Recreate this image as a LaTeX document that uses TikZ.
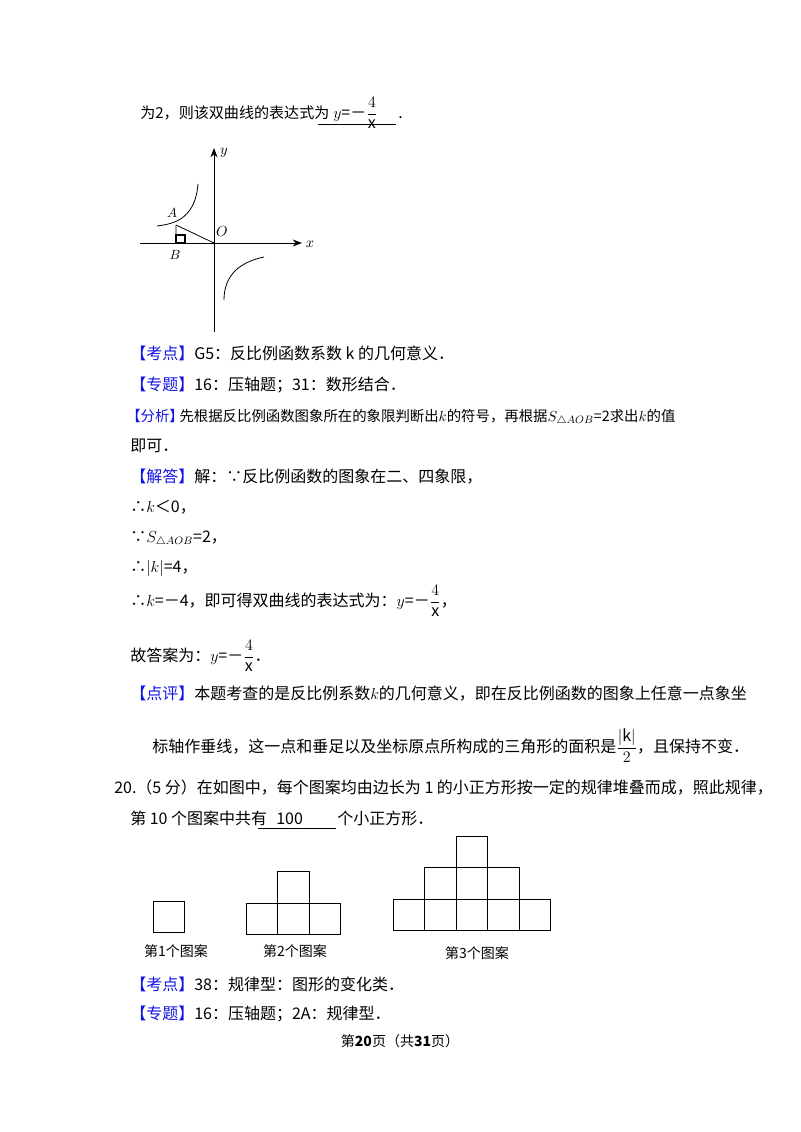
\documentclass[tikz,border=0pt]{standalone}
\usepackage{fontspec}
\usepackage{amsmath}
\setmainfont{Noto Sans CJK SC}
\usetikzlibrary{arrows.meta}
\definecolor{kb}{RGB}{20,20,230}
\newcommand{\lb}[1]{\textcolor{kb}{【#1】}}
\begin{document}
\begin{tikzpicture}[x=0.75pt,y=-0.75pt,
  txt/.style={anchor=base west,inner sep=0pt,font=\fontsize{12}{14}\selectfont},
  captxt/.style={anchor=base,inner sep=0pt,font=\fontsize{10.5}{12}\selectfont},
  sq/.style={draw,line width=0.7pt},
  ax/.style={line width=0.6pt,-{Stealth[length=7pt]}},
  crv/.style={line width=0.6pt}]
\useasboundingbox[fill=white] (0,0) rectangle (800,1132);
\node[txt,font=\fontsize{11.3}{14}\selectfont] (l1) at (140,118) {为2，则该双曲线的表达式为};
\node[txt] (l1f) at (333,118) {$y$=－$\dfrac{4}{\mathrm{x}}$};
\node[txt] (l1d) at (398,118) {.};
\coordinate (u1a) at (318,124); \coordinate (u1b) at (396,124);
\draw[line width=0.5pt] (u1a) -- (u1b);
% graph
\coordinate (yb) at (214,332); \coordinate (yt) at (214,148);
\coordinate (xl) at (140,243); \coordinate (xr) at (302,243);
\draw[ax] (yb) -- (yt); \draw[ax] (xl) -- (xr);
\node[font=\itshape\fontsize{11}{12}\selectfont] (ly) at (224,153) {$y$};
\node[font=\fontsize{11}{12}\selectfont] (lx) at (310,244) {$x$};
\node[font=\fontsize{11}{12}\selectfont] (lo) at (222,232) {$O$};
\coordinate (O) at (214,243);
\coordinate (A) at (176,225); \coordinate (B) at (176,243);
\draw[crv] (157,226) .. controls (170,224) and (195,222) .. (198,184);
\draw[crv] (224,300) .. controls (224,275) and (240,262) .. (264,257);
\draw[line width=0.6pt] (A) -- (B) (A) -- (O);
\draw[line width=0.8pt] (176,235) rectangle (185,243);
\fill (O) circle (1.3);
\node[font=\fontsize{10}{12}\selectfont] (la) at (172,213) {$A$};
\node[font=\fontsize{10}{12}\selectfont] (lbB) at (175,255) {$B$};
% text
\node[txt] (t1) at (130,359) {\lb{考点}G5：反比例函数系数 k 的几何意义．};
\node[txt] (t2) at (130,390) {\lb{专题}16：压轴题；31：数形结合．};
\node[txt,font=\fontsize{10.8}{14}\selectfont] (t3) at (126,421) {\lb{分析}\hspace{-0.3em}先根据反比例函数图象所在的象限判断出$k$的符号，再根据$S_{\triangle AOB}$=2求出$k$的值};
\node[txt] (t4) at (130,451) {即可．};
\node[txt] (t5) at (130,482) {\lb{解答}解：∵反比例函数的图象在二、四象限，};
\node[txt] (t6) at (130,512) {∴$k$＜0，};
\node[txt] (t7) at (130,542) {∵$S_{\triangle AOB}$=2，};
\node[txt] (t8) at (130,572) {∴$|k|$=4，};
\node[txt] (t9) at (130,606) {∴$k$=－4，即可得双曲线的表达式为：$y$=－$\dfrac{4}{\mathrm{x}}$，};
\node[txt] (t10) at (130,661) {故答案为：$y$=－$\dfrac{4}{\mathrm{x}}$．};
\node[txt] (t11) at (130,699) {\lb{点评}本题考查的是反比例系数$k$的几何意义，即在反比例函数的图象上任意一点象坐};
\node[txt] (t12) at (152,752) {标轴作垂线，这一点和垂足以及坐标原点所构成的三角形的面积是$\dfrac{|\mathrm{k}|}{2}$，且保持不变．};
\node[txt] (t13) at (114,793) {20.（5 分）在如图中，每个图案均由边长为 1 的小正方形按一定的规律堆叠而成，照此规律，};
\node[txt] (t14) at (130,824) {第 10 个图案中共有};
\node[txt] (t14n) at (276,824) {100};
\node[txt] (t14e) at (337,824) {个小正方形．};
\coordinate (u2a) at (258,828); \coordinate (u2b) at (336,828);
\draw[line width=0.5pt] (u2a) -- (u2b);
% patterns
\def\s{31.5}
\draw[sq] (153,901) rectangle ++(\s,\s);
\foreach \i in {0,1,2} \draw[sq] (246+\i*\s,903) rectangle ++(\s,\s);
\draw[sq] (246+\s,903-\s) rectangle ++(\s,\s);
\foreach \i in {0,...,4} \draw[sq] (393+\i*\s,899) rectangle ++(\s,\s);
\foreach \i in {1,2,3} \draw[sq] (393+\i*\s,899-\s) rectangle ++(\s,\s);
\draw[sq] (393+2*\s,899-2*\s) rectangle ++(\s,\s);
\node[captxt] (c1) at (176,956) {第1个图案};
\node[captxt] (c2) at (295,956) {第2个图案};
\node[captxt] (c3) at (477,958) {第3个图案};
\node[txt] (t15) at (130,990) {\lb{考点}38：规律型：图形的变化类．};
\node[txt] (t16) at (130,1019) {\lb{专题}16：压轴题；2A：规律型．};
\node[anchor=base,inner sep=0pt,font=\fontsize{10.5}{12}\selectfont] (ft) at (400,1046) {第\textbf{20}页（共\textbf{31}页）};
\end{tikzpicture}
\end{document}
